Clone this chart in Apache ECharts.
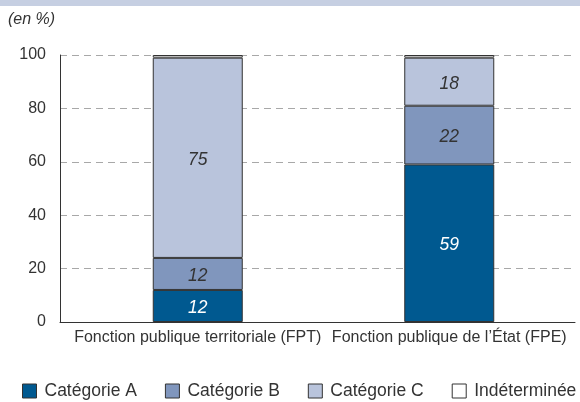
<!DOCTYPE html>
<html>
<head>
<meta charset="utf-8">
<script src="https://cdn.jsdelivr.net/npm/echarts@6/dist/echarts.min.js"></script>
<style>html,body{margin:0;padding:0;background:#fff}#c{width:580px;height:402px}</style>
</head>
<body>
<div id="c"></div>
<script>
var categories = ['Fonction publique territoriale (FPT)', "Fonction publique de l\u2019\u00C9tat (FPE)"];
var seriesNames = ['Cat\u00E9gorie A', 'Cat\u00E9gorie B', 'Cat\u00E9gorie C', 'Ind\u00E9termin\u00E9e'];
var catA = [12, 59];
var catB = [12, 22];
var catC = [75, 18];
var indet = [1, 1];
var yTicks = [0, 20, 40, 60, 80, 100];

var colors = ['#005990', '#8096bd', '#b9c4dc', '#ffffff'];
var labelColors = ['#ffffff', '#333333', '#333333', '#333333'];
var values = [catA, catB, catC, indet];
var font = 'Liberation Sans, Arial, Helvetica, sans-serif';

var chart = echarts.init(document.getElementById('c'), null, {renderer: 'canvas'});
var series = seriesNames.map(function (name, i) {
  return {
    name: name,
    type: 'bar',
    stack: 'total',
    xAxisIndex: 0,
    yAxisIndex: 0,
    barWidth: 90,
    data: values[i],
    itemStyle: {color: colors[i], borderColor: '#333333', borderWidth: 1},
    label: {
      show: i < 3,
      position: 'inside',
      offset: [0, 2],
      color: labelColors[i],
      fontStyle: 'italic',
      fontSize: 17.5,
      fontFamily: font
    },
    emphasis: {disabled: true}
  };
});

var splitStyle = {show: true, lineStyle: {color: '#a8a8a8', type: [7, 5], width: 1}};

chart.setOption({
  animation: false,
  textStyle: {fontFamily: font},
  graphic: [
    {type: 'rect', left: 0, top: 0, shape: {width: 580, height: 6}, style: {fill: '#c6cfe2'}},
    {type: 'text', left: 8, top: 12, style: {text: '(en %)', font: 'italic 16px ' + font, fill: '#333333'}}
  ],
  grid: [
    {left: 72, right: 5, top: 55, bottom: 80, containLabel: false},
    {left: 60, width: 12, top: 55, bottom: 80, containLabel: false}
  ],
  legend: {
    data: seriesNames,
    left: 17,
    top: 377,
    width: 600,
    itemWidth: 14,
    itemHeight: 14,
    itemGap: 28,
    icon: 'rect',
    textStyle: {fontSize: 17.5, color: '#333333', fontFamily: font, padding: [0, 0, 0, 3]},
    itemStyle: {borderColor: '#333333', borderWidth: 1}
  },
  xAxis: [
    {
      type: 'category',
      gridIndex: 0,
      data: categories,
      axisLine: {show: true, lineStyle: {color: '#333333', width: 1}},
      axisTick: {show: false},
      axisLabel: {color: '#333333', fontSize: 16, margin: 8, fontFamily: font, interval: 0}
    },
    {
      type: 'category',
      gridIndex: 1,
      data: [''],
      axisLine: {show: true, lineStyle: {color: '#333333', width: 1}},
      axisTick: {show: false},
      axisLabel: {show: false}
    }
  ],
  yAxis: [
    {
      type: 'value',
      gridIndex: 0,
      min: yTicks[0],
      max: yTicks[yTicks.length - 1],
      interval: 20,
      offset: 12,
      axisLine: {show: true, lineStyle: {color: '#333333', width: 1}},
      axisTick: {show: false},
      axisLabel: {color: '#333333', fontSize: 16, margin: 14, fontFamily: font},
      splitLine: splitStyle
    },
    {
      type: 'value',
      gridIndex: 1,
      min: yTicks[0],
      max: yTicks[yTicks.length - 1],
      interval: 20,
      axisLine: {show: false},
      axisTick: {show: false},
      axisLabel: {show: false},
      splitLine: splitStyle
    }
  ],
  series: series
});
</script>
</body>
</html>
